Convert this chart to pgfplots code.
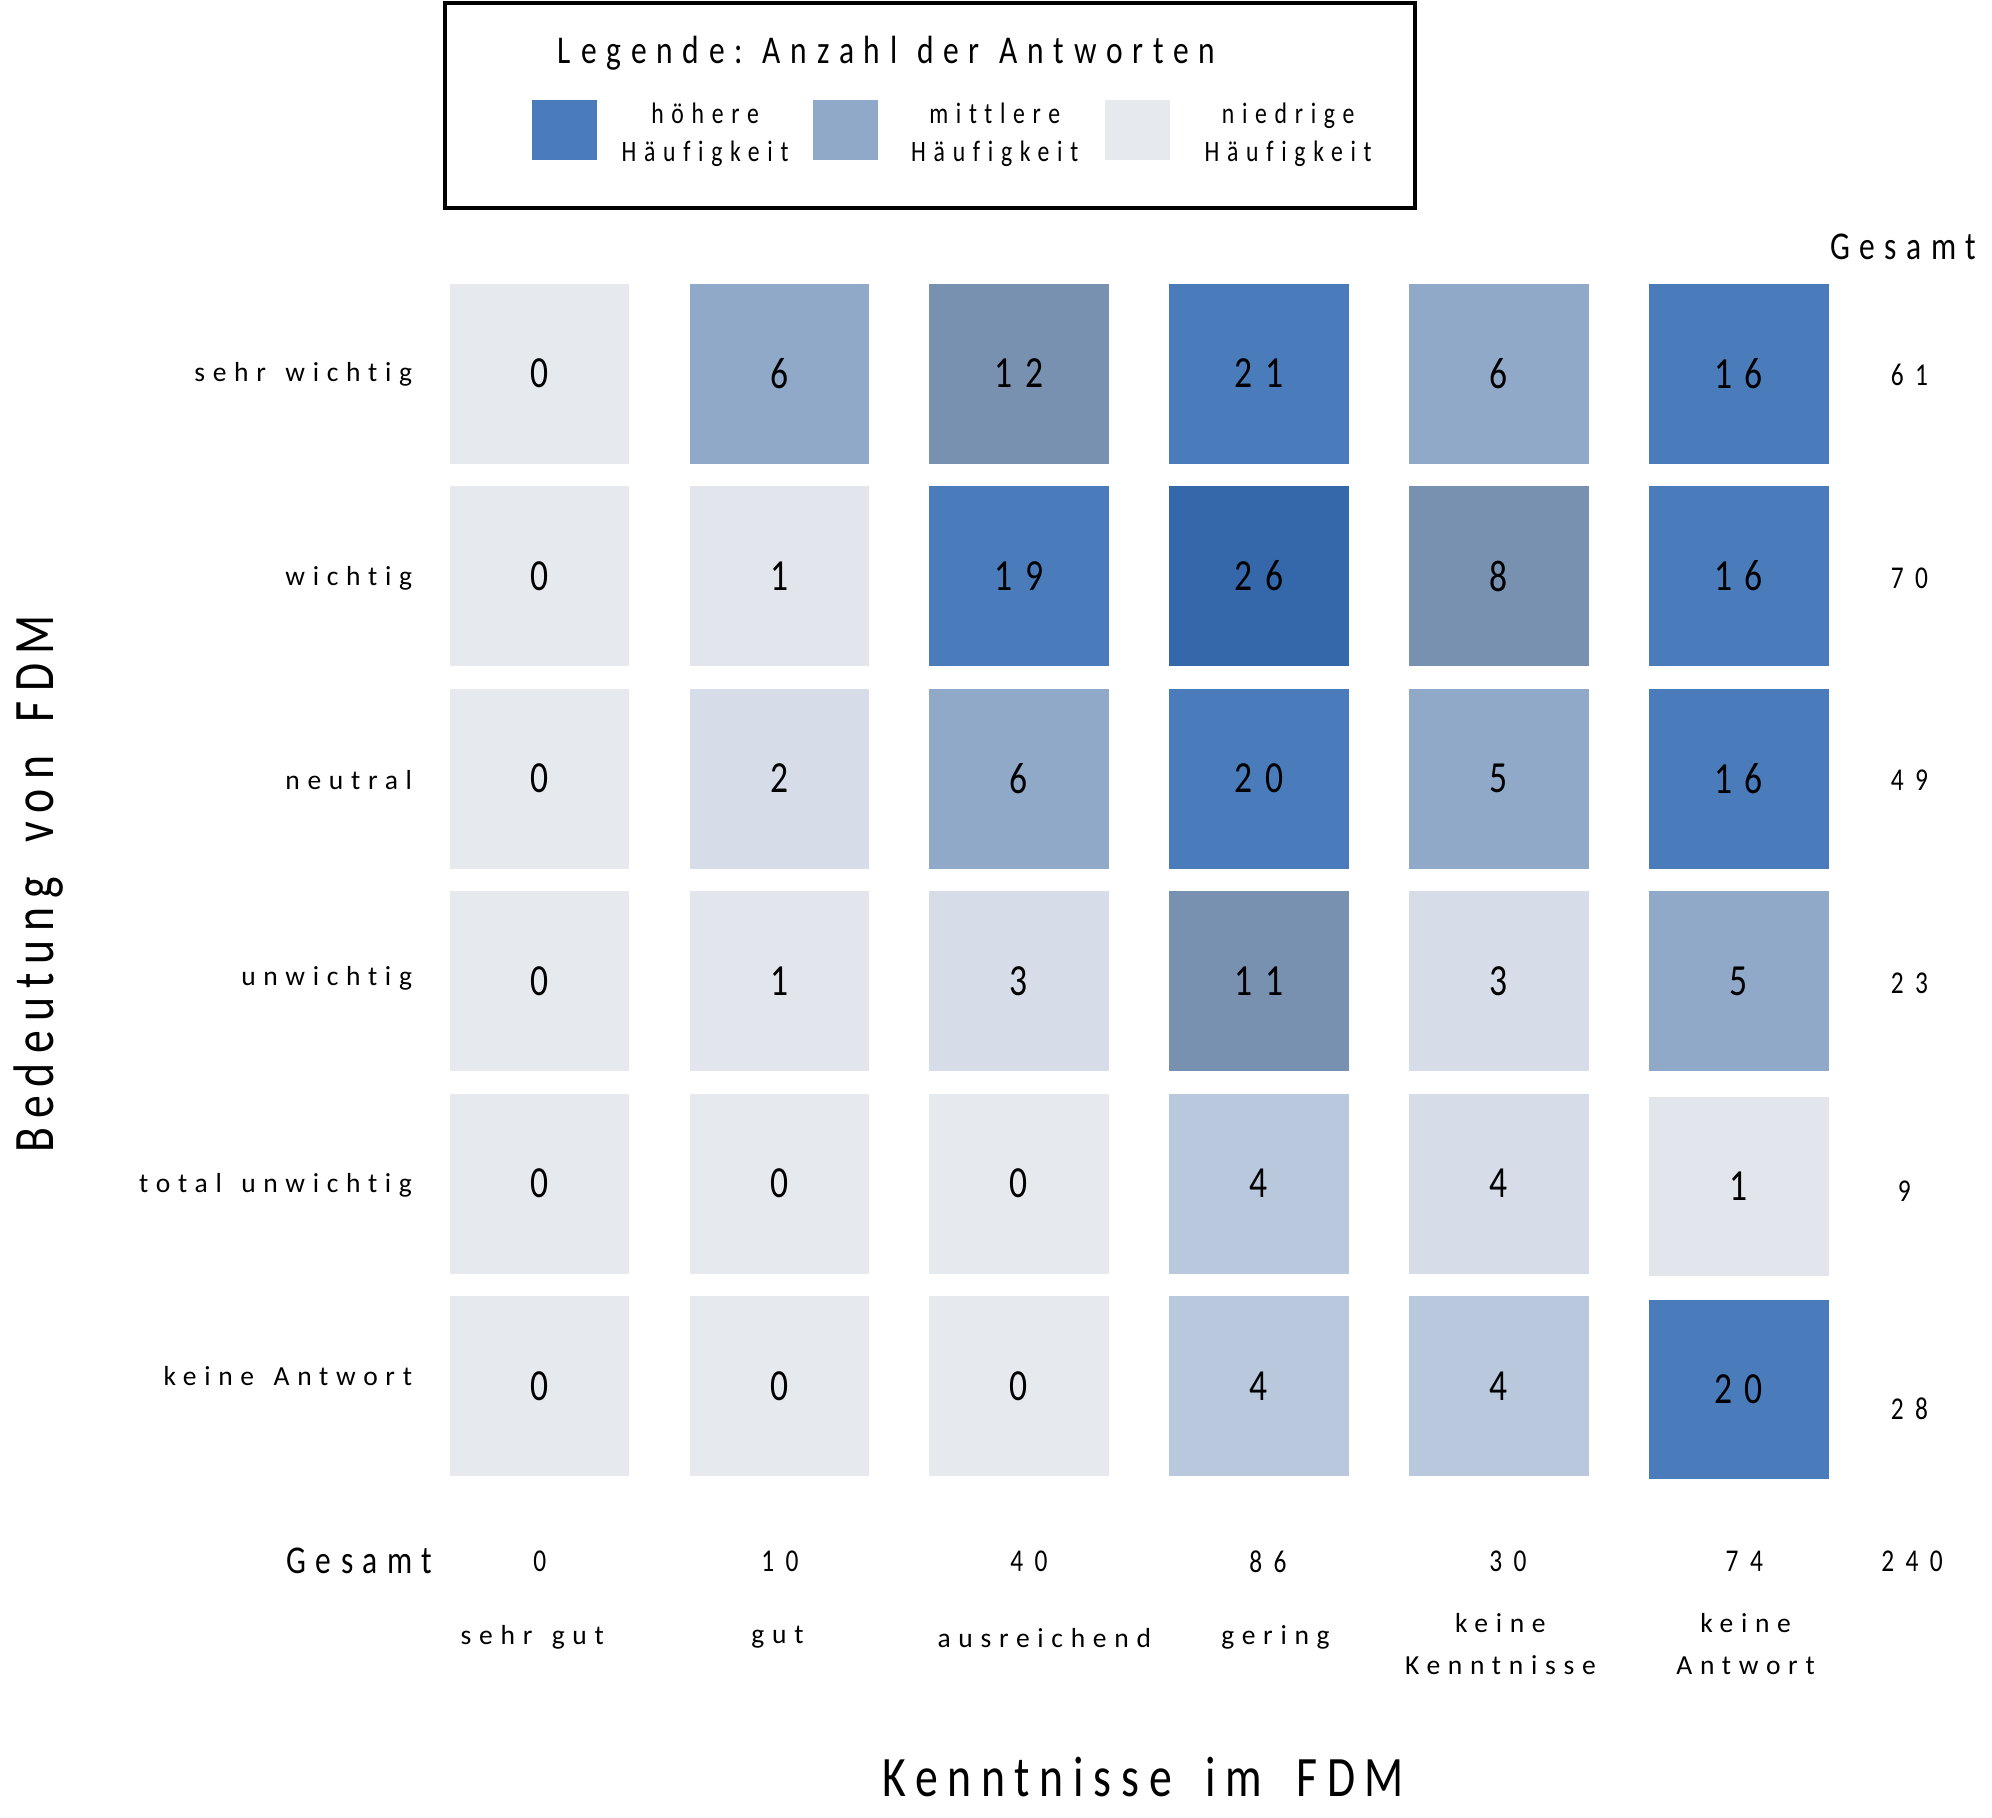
\documentclass[border=0pt]{standalone}
\usepackage{pgfplots}
\pgfplotsset{compat=1.18}
\usepackage{fontspec}
\setmainfont{Carlito}[FakeStretch=0.8, Ligatures={NoCommon}]
\newfontfamily\labfont{Carlito}[Ligatures={NoCommon}]
\newcommand\T[3]{\fontsize{#1}{#2}\selectfont\addfontfeatures{LetterSpace=#3}}
\newcommand\lw{\hspace{4.6pt}}
\definecolor{c0}{HTML}{E6E9EE}
\definecolor{c1}{HTML}{E2E6EC}
\definecolor{c2}{HTML}{D6DDE8}
\definecolor{c3}{HTML}{B9C8DC}
\definecolor{c4}{HTML}{91A9C8}
\definecolor{c5}{HTML}{7891B0}
\definecolor{c6}{HTML}{4A7BBB}
\definecolor{c7}{HTML}{3567AB}
\begin{document}
\begin{tikzpicture}
\useasboundingbox (-99.03pt,-78.09pt) rectangle (371.37pt,351.21pt);
\begin{axis}[
  scale only axis, width=339.84pt, height=286.92pt,
  xmin=-0.5, xmax=5.5, ymin=-5.5, ymax=0.5,
  hide axis,
  only marks, mark=square*, mark size=21.1pt,
  point meta=explicit symbolic,
  nodes near coords={\pgfplotspointmeta},
  nodes near coords align={center},
  every node near coord/.append style={font=\T{10.5pt}{12pt}{28}, text=black, inner sep=0pt},
]
\addplot[mark options={fill=c0,draw=c0,line width=0.1pt}] table[meta=v]{
x y v
0 0 0
0 -1 0
0 -2 0
0 -3 0
0 -4 0
0 -5 0
1 -4 0
1 -5 0
2 -4 0
2 -5 0
};
\addplot[mark options={fill=c1,draw=c1,line width=0.1pt}] table[meta=v]{
x y v
1 -1 1
1 -3 1
5 -4.013 1
};
\addplot[mark options={fill=c2,draw=c2,line width=0.1pt}] table[meta=v]{
x y v
1 -2 2
2 -3 3
4 -3 3
4 -4 4
};
\addplot[mark options={fill=c3,draw=c3,line width=0.1pt}] table[meta=v]{
x y v
3 -4 4
3 -5 4
4 -5 4
};
\addplot[mark options={fill=c4,draw=c4,line width=0.1pt}] table[meta=v]{
x y v
1 0 6
4 0 6
2 -2 6
4 -2 5
5 -3 5
};
\addplot[mark options={fill=c5,draw=c5,line width=0.1pt}] table[meta=v]{
x y v
2 0 12
4 -1 8
3 -3 11
};
\addplot[mark options={fill=c6,draw=c6,line width=0.1pt}] table[meta=v]{
x y v
3 0 21
5 0 16
2 -1 19
5 -1 16
3 -2 20
5 -2 16
5 -5.016 20
};
\addplot[mark options={fill=c7,draw=c7,line width=0.1pt}] table[meta=v]{
x y v
3 -1 26
};
\end{axis}
\begin{scope}[x=0.3pt,y=-0.3pt,shift={(-330.1,-1170.7)}]
% legend
\draw[line width=0.9pt] (350,2.5) rectangle (1114,164);
\node[font=\T{9.3pt}{11pt}{25}] at (698,42) {Legende:\hspace{4.6pt}Anzahl\hspace{4.6pt}der\hspace{4.6pt}Antworten};
\fill[c6] (419,79) rectangle (470,126);
\fill[c4] (640,79) rectangle (691,126);
\fill[c0] (870,79) rectangle (921,126);
\node[align=center, font=\T{7pt}{9pt}{26}] at (555,106) {höhere\\Häufigkeit};
\node[align=center, font=\T{7pt}{9pt}{26}] at (783,106) {mittlere\\Häufigkeit};
\node[align=center, font=\T{7pt}{9pt}{26}] at (1014,106) {niedrige\\Häufigkeit};
% row labels
\begin{scope}[every node/.style={anchor=east, inner sep=0pt, font={\labfont\T{6.5pt}{8pt}{28}}}]
\node at (325,295) {sehr\lw wichtig};
\node at (325,455) {wichtig};
\node at (325,614) {neutral};
\node at (325,770) {unwichtig};
\node at (325,933) {total\lw unwichtig};
\node at (325,1083) {keine\lw Antwort};
\end{scope}
% column labels
\begin{scope}[every node/.style={align=center, font={\labfont\T{6.5pt}{9.9pt}{28}}}]
\node at (419,1289) {sehr\lw gut};
\node at (612,1289) {gut};
\node at (822,1289) {ausreichend};
\node at (1004,1289) {gering};
\node at (1181,1294) {keine\\Kenntnisse};
\node at (1374,1294) {keine\\Antwort};
\end{scope}
% totals
\begin{scope}[every node/.style={font=\T{7.5pt}{9pt}{36}}]
\node at (1503,295) {61};
\node at (1503,455) {70};
\node at (1503,614) {49};
\node at (1503,774) {23};
\node at (1499,938) {9};
\node at (1503,1109) {28};
\node at (425,1229) {0};
\node at (614,1229) {10};
\node at (810,1229) {40};
\node at (998,1229) {86};
\node at (1187,1229) {30};
\node at (1373,1229) {74};
\node at (1505,1229) {240};
\end{scope}
\node[font=\T{9.3pt}{11pt}{24}] at (1498,194) {Gesamt};
\node[font=\T{9.3pt}{11pt}{24}] at (283,1229) {Gesamt};
% axis titles
\node[font=\T{13.5pt}{16pt}{16}, rotate=90] at (30,696) {Bedeutung\hspace{8pt}von\hspace{8pt}FDM};
\node[font=\T{13.5pt}{16pt}{17}] at (900,1399) {Kenntnisse\hspace{8pt}im\hspace{8pt}FDM};
\end{scope}
\end{tikzpicture}
\end{document}
